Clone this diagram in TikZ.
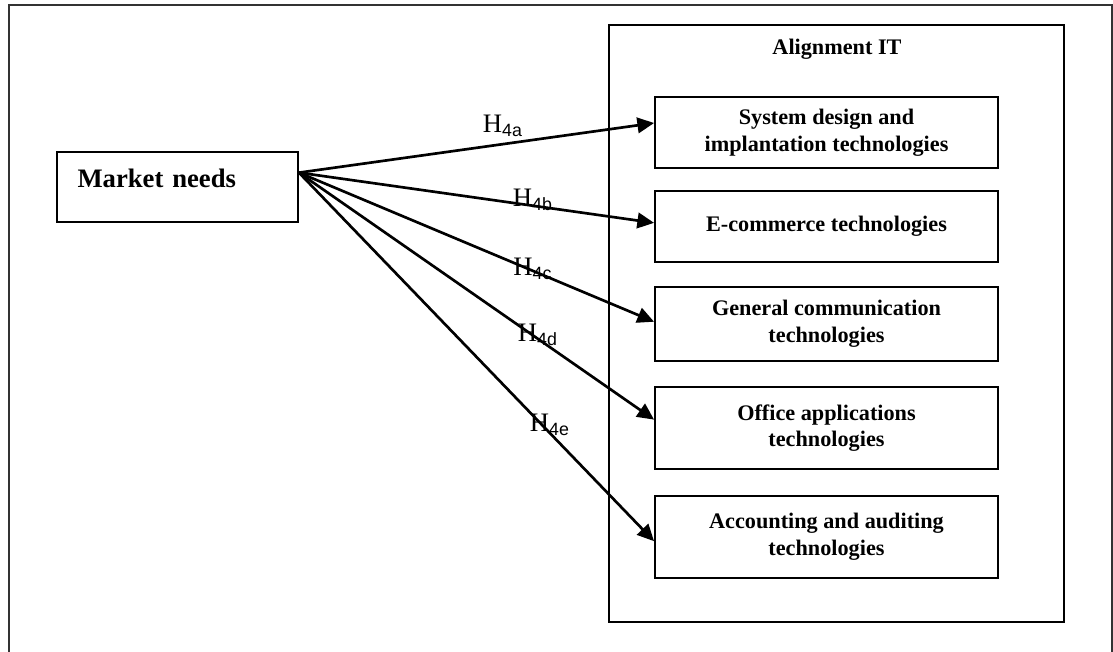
\documentclass[tikz,border=0pt]{standalone}
\usepackage{fontspec}
\setmainfont{Liberation Serif}
\newfontfamily\arialfont{Liberation Sans}
\usetikzlibrary{arrows.meta, positioning, calc}

\newcommand{\hyplabel}[1]{H\textsubscript{\arialfont #1}}

\begin{document}
\begin{tikzpicture}[
    x=0.45pt, y=-0.45pt,
    itbox/.style={rectangle, draw, line width=0.8pt, minimum width=154.4pt,
                  minimum height=#1, align=center, font=\normalsize\bfseries},
    hyp/.style={-{Triangle[length=7.5pt,width=7pt]}, line width=1.2pt},
    hlab/.style={font=\fontsize{12}{14}\selectfont, inner sep=1pt}
]
    \useasboundingbox (0,0) rectangle (1113,652);

    % Page frame (open at the bottom)
    \draw[line width=0.6pt, black!80] (9,652) -- (9,5) -- (1112,5) -- (1112,652);

    % Source
    \node[rectangle, draw, line width=0.8pt, minimum width=108.5pt, minimum height=31.5pt,
          text width=90pt, align=left, text depth=8pt,
          font=\fontsize{12}{14}\selectfont\bfseries] (market) at (177.5,187) {Market needs};

    % Alignment IT group
    \node[rectangle, draw, line width=0.8pt, minimum width=204.8pt, minimum height=268.7pt]
        (align) at (836.5,323.5) {};
    \node[font=\normalsize\bfseries] (aligntitle) at (837,49) {Alignment IT};

    \node[itbox=32pt]   (sysdes)  at (826.5,132.5) {System design and\\implantation technologies};
    \node[itbox=32pt]   (ecom)    at (826.5,226.5) {E-commerce technologies};
    \node[itbox=33.3pt] (gencomm) at (826.5,324)   {General communication\\technologies};
    \node[itbox=36.9pt] (office)  at (826.5,428)   {Office applications\\technologies};
    \node[itbox=36.9pt] (acc)     at (826.5,537)   {Accounting and auditing\\technologies};

    % Hypotheses
    \coordinate (src) at ($(market.north east)!0.3!(market.south east)$);
    \draw[hyp] (src) -- ($(sysdes.north west)!0.37!(sysdes.south west)$);
    \draw[hyp] (src) -- ($(ecom.north west)!0.45!(ecom.south west)$);
    \draw[hyp] (src) -- ($(gencomm.north west)!0.47!(gencomm.south west)$);
    \draw[hyp] (src) -- ($(office.north west)!0.40!(office.south west)$);
    \draw[hyp] (src) -- ($(acc.north west)!0.55!(acc.south west)$);

    \node[hlab] (h4a) at (503,126) {\hyplabel{4a}};
    \node[hlab] (h4b) at (533,200) {\hyplabel{4b}};
    \node[hlab] (h4c) at (533,269) {\hyplabel{4c}};
    \node[hlab] (h4d) at (538,335) {\hyplabel{4d}};
    \node[hlab] (h4e) at (550,425) {\hyplabel{4e}};
\end{tikzpicture}
\end{document}
